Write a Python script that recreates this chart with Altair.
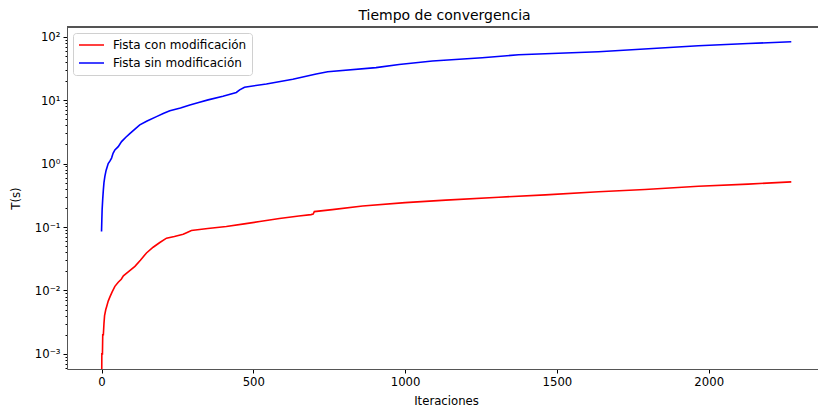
import altair as alt
import pandas as pd

# Convergence time per iteration (seconds), FISTA with and without modification
iter_con = [0, 1, 3, 4, 6, 8, 10, 14, 17, 22, 28, 35, 44, 55, 65, 72, 90, 110,
            128, 148, 170, 192, 214, 240, 269, 282, 296, 350, 411, 470, 521,
            586, 650, 690, 697, 701, 760, 860, 1000, 1134, 1309, 1462, 1637,
            1790, 1966, 2130, 2272]
t_con = [0.0001, 0.001, 0.001, 0.002, 0.002, 0.003, 0.004, 0.005, 0.0056,
         0.0068, 0.008, 0.0095, 0.0116, 0.0135, 0.015, 0.017, 0.020, 0.024,
         0.030, 0.039, 0.048, 0.057, 0.0668, 0.071, 0.077, 0.082, 0.088,
         0.095, 0.102, 0.112, 0.122, 0.136, 0.149, 0.157, 0.160, 0.175,
         0.188, 0.215, 0.242, 0.265, 0.295, 0.321, 0.360, 0.390, 0.440,
         0.475, 0.515]

iter_sin = [0, 1, 2, 4, 6, 8, 11, 15, 22, 28, 33, 38, 44, 55, 66, 80, 94, 110,
            126, 150, 181, 205, 225, 260, 291, 320, 351, 400, 444, 455, 471,
            543, 630, 707, 745, 904, 980, 1090, 1254, 1374, 1637, 1966, 2130,
            2272]
t_sin = [0.085, 0.13, 0.19, 0.28, 0.385, 0.5, 0.63, 0.78, 1.0, 1.1, 1.22,
         1.45, 1.64, 1.85, 2.22, 2.6, 3.0, 3.5, 4.07, 4.7, 5.5, 6.2, 6.8, 7.5,
         8.4, 9.2, 10.1, 11.5, 13.2, 14.5, 16.0, 18.0, 21.3, 25.9, 28.1, 32.5,
         36.5, 41.5, 46.5, 52.0, 58.0, 72.0, 78.0, 83.4]

series_names = ["Fista con modificación", "Fista sin modificación"]
series_colors = ["#ff0000", "#0000ff"]
x_ticks = [0, 500, 1000, 1500, 2000]

df = pd.concat([
    pd.DataFrame({"it": iter_con, "t": t_con, "serie": series_names[0]}),
    pd.DataFrame({"it": iter_sin, "t": t_sin, "serie": series_names[1]}),
], ignore_index=True)
df["orden"] = df.index

# log-axis tick positions: 1..9 x 10^d (labels only on the decades)
y_ticks = [m * 10.0 ** d for d in range(-4, 3) for m in range(1, 10)
           if 5.8e-4 <= m * 10.0 ** d <= 142]
decade_test = "abs(log(datum.value)/LN10 - round(log(datum.value)/LN10)) < 0.01"
sup = {-3: "10⁻³", -2: "10⁻²", -1: "10⁻¹", 0: "10⁰", 1: "10¹", 2: "10²"}
label_expr = "''"
for k, s in sup.items():
    label_expr = f"round(log(datum.value)/LN10) == {k} ? '{s}' : ({label_expr})"
label_expr = f"{decade_test} ? ({label_expr}) : ''"

FONT = "DejaVu Sans"
SPINE = "#555555"

lines = alt.Chart(df).mark_line(strokeWidth=1.6, clip=True).encode(
    x=alt.X("it:Q",
            scale=alt.Scale(domain=[-113.75, 2360], nice=False, zero=False),
            axis=alt.Axis(values=x_ticks, format="d", title="Iteraciones",
                          titleX=379, titleY=26, titleBaseline="top",
                          tickSize=4, labelPadding=3, grid=False)),
    y=alt.Y("t:Q",
            scale=alt.Scale(type="log", domain=[5.78e-4, 142.2], nice=False),
            axis=alt.Axis(values=y_ticks, labelExpr=label_expr, title="T(s)",
                          titleX=-46, titleY=171, grid=False, labelPadding=3,
                          tickSize={"condition": {"test": decade_test,
                                                  "value": 4}, "value": 2})),
    color=alt.Color("serie:N",
                    scale=alt.Scale(domain=series_names, range=series_colors),
                    legend=alt.Legend(title=None, orient="none",
                                      legendX=6, legendY=6)),
    order="orden:Q",
)

top_spine = alt.Chart(df).mark_rule(color=SPINE, strokeWidth=1).encode(
    x=alt.value(0), x2=alt.value(751), y=alt.value(0)
)

chart = alt.layer(lines, top_spine).properties(
    width=751, height=342,
    autosize="none",
    padding={"left": 67, "top": 27, "right": 0, "bottom": 41},
    title=alt.TitleParams("Tiempo de convergencia", font=FONT, fontSize=14,
                          fontWeight="normal", color="black", anchor="middle",
                          dx=2, dy=15, offset=8, baseline="alphabetic"),
).configure_view(strokeWidth=0).configure_axis(
    domainColor=SPINE, domainWidth=1, tickColor="black", tickWidth=1,
    labelFont=FONT, labelFontSize=11.7, labelColor="black",
    titleFont=FONT, titleFontSize=11.7, titleFontWeight="normal",
    titleColor="black",
).configure_legend(
    symbolType="stroke", symbolSize=625, symbolStrokeWidth=1.6,
    labelFont=FONT, labelFontSize=12, labelColor="black", labelOffset=8,
    padding=5, rowPadding=4, clipHeight=14,
    strokeColor="#d0d0d0", fillColor="white", cornerRadius=3,
)

chart.save("out.html", embed_options={"renderer": "svg", "actions": False})
